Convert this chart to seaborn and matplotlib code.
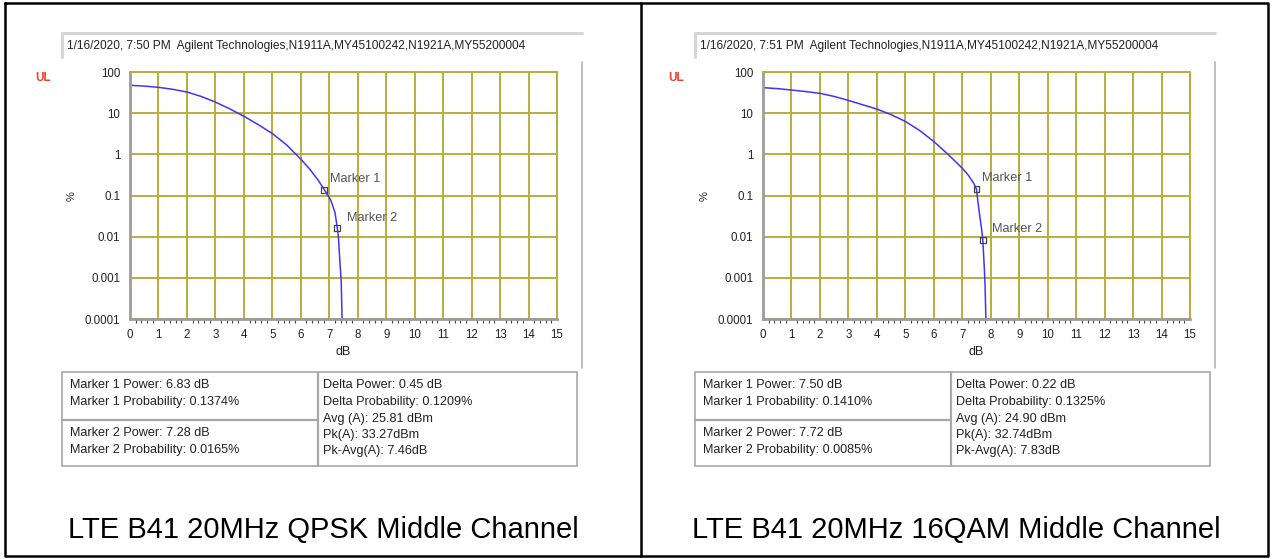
import numpy as np
import pandas as pd
import matplotlib
matplotlib.use("Agg")
import matplotlib.pyplot as plt
from matplotlib.patches import Rectangle
from matplotlib.lines import Line2D
from matplotlib.ticker import FixedLocator, NullLocator, MultipleLocator
import seaborn as sns

# CCDF curves (dB, %)
qpsk_db = [0, 0.5, 1, 1.5, 2, 2.5, 3, 3.5, 4, 4.5, 5, 5.5, 6, 6.3, 6.6, 6.83, 7.05, 7.2, 7.28, 7.32, 7.37, 7.42, 7.45]
qpsk_pct = [47.5, 45.5, 42.4, 38.0, 32.6, 25.5, 18.6, 12.8, 8.4, 5.3, 3.2, 1.7, 0.76, 0.45, 0.24, 0.1374, 0.078, 0.039, 0.0165, 0.01, 0.0027, 0.0008, 0.0001]

qam16_db = [0, 0.5, 1, 1.5, 2, 2.5, 3, 3.5, 4, 4.5, 5, 5.5, 6, 6.5, 7, 7.2, 7.4, 7.5, 7.55, 7.62, 7.68, 7.72, 7.77, 7.8, 7.83]
qam16_pct = [41.6, 39.5, 36.5, 33.5, 30.3, 25.5, 20.4, 16.0, 12.6, 9.2, 6.3, 3.8, 2.05, 1.0, 0.46, 0.32, 0.2, 0.141, 0.07, 0.03, 0.015, 0.0085, 0.002, 0.0007, 0.0001]

qpsk_markers_db = [6.83, 7.28]
qpsk_markers_pct = [0.1374, 0.0165]
qam16_markers_db = [7.50, 7.72]
qam16_markers_pct = [0.1410, 0.0085]

headers = ["1/16/2020, 7:50 PM  Agilent Technologies,N1911A,MY45100242,N1921A,MY55200004",
           "1/16/2020, 7:51 PM  Agilent Technologies,N1911A,MY45100242,N1921A,MY55200004"]

qpsk_left_rows = [["Marker 1 Power: 6.83 dB", "Marker 1 Probability: 0.1374%"],
                  ["Marker 2 Power: 7.28 dB", "Marker 2 Probability: 0.0165%"]]
qpsk_right_rows = ["Delta Power: 0.45 dB", "Delta Probability: 0.1209%", "Avg (A): 25.81 dBm",
                   "Pk(A): 33.27dBm", "Pk-Avg(A): 7.46dB"]
qam16_left_rows = [["Marker 1 Power: 7.50 dB", "Marker 1 Probability: 0.1410%"],
                   ["Marker 2 Power: 7.72 dB", "Marker 2 Probability: 0.0085%"]]
qam16_right_rows = ["Delta Power: 0.22 dB", "Delta Probability: 0.1325%", "Avg (A): 24.90 dBm",
                    "Pk(A): 32.74dBm", "Pk-Avg(A): 7.83dB"]

titles = ["LTE B41 20MHz QPSK Middle Channel", "LTE B41 20MHz 16QAM Middle Channel"]

y_ticks = [100, 10, 1, 0.1, 0.01, 0.001, 0.0001]
y_labels = ["100", "10", "1", "0.1", "0.01", "0.001", "0.0001"]

sns.set_style("white")
plt.rcParams['font.family'] = ['Liberation Sans', 'DejaVu Sans']

W, H = 1275, 559
fig = plt.figure(figsize=(W / 100, H / 100), dpi=100)

GRID = '#B9AE3A'
CURVE = '#4433F5'
TXT = '#222222'


def px(x, y):
    # pixel coords (top-left origin) -> figure fraction
    return x / W, 1 - y / H


def frect(x0, y0, x1, y1, **kw):
    r = Rectangle((x0 / W, 1 - y1 / H), (x1 - x0) / W, (y1 - y0) / H,
                  transform=fig.transFigure, **kw)
    fig.patches.append(r)


def fline(xs, ys, **kw):
    fig.lines.append(Line2D([x / W for x in xs], [1 - y / H for y in ys],
                            transform=fig.transFigure, **kw))


def draw_panel(off, hdr, dbs, pcts, mdb, mpct, mk_offsets, lrows, rrows, title, table_w):
    # header box with bevel
    fline([off + 62, off + 62, off + 582], [57, 33, 33], color='#d6d6d6', lw=2.2)
    fig.text(*px(off + 67, 46), hdr, fontsize=8.6, color=TXT, va='center')
    # panel side frame
    fline([off + 582, off + 582], [62, 368], color='#b4b4b4', lw=1.2)

    fig.text(*px(off + 43, 78), "UL", fontsize=8.5, color='#F04030', fontweight='bold',
             ha='center', va='center')
    fig.text(*px(off + 72, 196), "%", fontsize=8, color=TXT, rotation=90,
             ha='center', va='center')
    fig.text(*px(off + 343, 352), "dB", fontsize=9, color=TXT, ha='center', va='center')

    l, b = px(off + 130, 319)
    ax = fig.add_axes([l, b, 427 / W, 247 / H])
    df = pd.DataFrame({'db': dbs, 'pct': pcts})
    sns.lineplot(data=df, x='db', y='pct', ax=ax, color=CURVE, lw=1.1,
                 estimator=None, sort=False)
    mk = pd.DataFrame({'db': mdb, 'pct': mpct})
    sns.scatterplot(data=mk, x='db', y='pct', ax=ax, marker='s', s=18,
                    facecolor='none', edgecolor='#444444', linewidth=0.9, zorder=5)
    for i, (xv, yv) in enumerate(zip(mdb, mpct)):
        ax.annotate(f"Marker {i + 1}", (xv, yv), xytext=mk_offsets[i],
                    textcoords='offset pixels', fontsize=9.2, color='#555555',
                    va='center', ha='left')

    ax.set_yscale('log')
    ax.set_xlim(0, 15)
    ax.set_ylim(0.0001, 100)
    ax.xaxis.set_major_locator(MultipleLocator(1))
    ax.xaxis.set_minor_locator(MultipleLocator(0.2))
    ax.yaxis.set_major_locator(FixedLocator(y_ticks))
    ax.yaxis.set_minor_locator(NullLocator())
    ax.set_yticklabels(y_labels)
    ax.set_xticks(range(16))
    ax.set_xticklabels([str(i) for i in range(16)])
    ax.grid(True, which='major', color=GRID, lw=1.4)
    ax.tick_params(axis='both', which='major', labelsize=8.3, colors='#444444',
                   labelcolor=TXT, length=5, width=1, direction='out', pad=2)
    ax.tick_params(axis='x', which='minor', length=3, width=0.8, colors='#444444',
                   direction='out', bottom=True)
    ax.set_xlabel('')
    ax.set_ylabel('')
    for s in ['left', 'bottom']:
        ax.spines[s].set_color('#9c9c9c')
        ax.spines[s].set_linewidth(2)
    for s in ['top', 'right']:
        ax.spines[s].set_color(GRID)
        ax.spines[s].set_linewidth(1.4)

    # marker table
    x0, x1 = off + 62, off + 62 + table_w
    xm = off + 318
    frect(x0, 372, x1, 466, facecolor='white', edgecolor='#a8a8a8', lw=1.2)
    fline([xm, xm], [372, 466], color='#a8a8a8', lw=1.6)
    fline([x0, xm], [420, 420], color='#a8a8a8', lw=1.6)
    for j, ys in enumerate([[385, 402], [433, 450]]):
        for k, yy in enumerate(ys):
            fig.text(*px(off + 70, yy), lrows[j][k], fontsize=9.1, color=TXT, va='center')
    for yy, t in zip([385, 402, 419, 435, 451], rrows):
        fig.text(*px(off + 323, yy), t, fontsize=9.1, color=TXT, va='center')

    fig.text(*px(off + 323, 530), title, fontsize=21, color='black',
             ha='center', va='center')


draw_panel(0, headers[0], qpsk_db, qpsk_pct, qpsk_markers_db, qpsk_markers_pct,
           [(6, 11), (10, 10)], qpsk_left_rows, qpsk_right_rows, titles[0], 515)
draw_panel(633, headers[1], qam16_db, qam16_pct, qam16_markers_db, qam16_markers_pct,
           [(6, 11), (9, 11)], qam16_left_rows, qam16_right_rows, titles[1], 515)

# outer black frame and divider
fline([5, 1268, 1268, 5, 5], [3, 3, 556, 556, 3], color='black', lw=1.8)
fline([641, 641], [3, 556], color='black', lw=1.8)

fig.savefig('out.png', dpi=100)
